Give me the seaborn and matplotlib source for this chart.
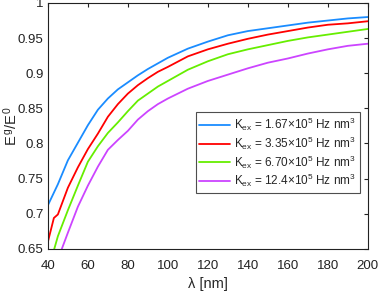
import numpy as np
import pandas as pd
import matplotlib
matplotlib.use("Agg")
import matplotlib.pyplot as plt
import seaborn as sns

# wavelengths (nm) and normalised energies
lam_blue = [40, 45, 50, 55, 60, 65, 70, 75, 80, 85, 90, 95, 100, 110, 120, 130, 140, 150, 160, 170, 180, 190, 200]
e_blue = [0.712, 0.742, 0.776, 0.801, 0.826, 0.848, 0.864, 0.877, 0.887, 0.897, 0.906, 0.914, 0.922,
          0.935, 0.945, 0.954, 0.960, 0.964, 0.968, 0.972, 0.975, 0.978, 0.980]

lam_red = [40, 43, 45, 50, 55, 60, 65, 70, 75, 80, 85, 90, 95, 100, 110, 120, 130, 140, 150, 160, 170, 180, 190, 200]
e_red = [0.660, 0.694, 0.699, 0.737, 0.766, 0.792, 0.814, 0.838, 0.856, 0.871, 0.883, 0.893, 0.902, 0.909,
         0.924, 0.934, 0.942, 0.949, 0.955, 0.960, 0.965, 0.969, 0.971, 0.974]

lam_green = [42, 45, 50, 55, 60, 65, 70, 75, 80, 85, 90, 95, 100, 110, 120, 130, 140, 150, 160, 170, 180, 190, 200]
e_green = [0.638, 0.668, 0.705, 0.740, 0.774, 0.796, 0.815, 0.830, 0.846, 0.861, 0.871, 0.881, 0.889,
           0.905, 0.917, 0.927, 0.934, 0.940, 0.946, 0.951, 0.955, 0.959, 0.963]

lam_purple = [45, 50, 55, 60, 65, 70, 75, 80, 85, 90, 95, 100, 110, 120, 130, 140, 150, 160, 170, 180, 190, 200]
e_purple = [0.635, 0.673, 0.710, 0.740, 0.767, 0.791, 0.805, 0.818, 0.834, 0.846, 0.856, 0.864,
            0.878, 0.889, 0.898, 0.907, 0.915, 0.921, 0.928, 0.934, 0.939, 0.942]

labels = [r"K$_{\mathrm{ex}}$ = 1.67×10$^{5}$ Hz nm$^{3}$",
          r"K$_{\mathrm{ex}}$ = 3.35×10$^{5}$ Hz nm$^{3}$",
          r"K$_{\mathrm{ex}}$ = 6.70×10$^{5}$ Hz nm$^{3}$",
          r"K$_{\mathrm{ex}}$ = 12.4×10$^{5}$ Hz nm$^{3}$"]
colors = ["#1a8cff", "#ff0000", "#66ee00", "#cc44ff"]

x_ticks = [40, 60, 80, 100, 120, 140, 160, 180, 200]
y_ticks = [0.65, 0.7, 0.75, 0.8, 0.85, 0.9, 0.95, 1.0]
y_tick_labels = ["0.65", "0.7", "0.75", "0.8", "0.85", "0.9", "0.95", "1"]

frames = []
for lam, e, lab in zip([lam_blue, lam_red, lam_green, lam_purple],
                       [e_blue, e_red, e_green, e_purple], labels):
    frames.append(pd.DataFrame({"lam": lam, "E": e, "series": lab}))
df = pd.concat(frames, ignore_index=True)

sns.set_style("white")
plt.rcParams["font.family"] = ["Liberation Sans", "DejaVu Sans"]
plt.rcParams["mathtext.fontset"] = "custom"
plt.rcParams["mathtext.rm"] = "Liberation Sans"
plt.rcParams["mathtext.it"] = "Liberation Sans"

fig = plt.figure(figsize=(3.8, 2.97), dpi=100)
ax = fig.add_axes([0.126, 0.162, 0.842, 0.828])

sns.lineplot(data=df, x="lam", y="E", hue="series", palette=colors,
             linewidth=1.3, ax=ax, legend=False, sort=False)

ax.set_xlim(40, 200)
ax.set_ylim(0.65, 1.0)
ax.set_xticks(x_ticks)
ax.set_yticks(y_ticks)
ax.set_yticklabels(y_tick_labels)
ax.tick_params(direction="in", length=3, width=0.8, top=True, right=True,
               labelsize=9.5, colors="#222222")
ax.tick_params(axis="x", pad=8)
ax.tick_params(axis="y", pad=3)
for s in ax.spines.values():
    s.set_color("#222222")
    s.set_linewidth(0.8)

ax.set_xlabel("λ [nm]", fontsize=10.5)
ax.xaxis.set_label_coords(0.5, -0.115)
ax.set_ylabel(r"E$^{\,\mathrm{g}}$/E$^{\,0}$", fontsize=10.5)
ax.yaxis.set_label_coords(-0.088, 0.5)

handles = [plt.Line2D([], [], color=c, lw=1.3) for c in colors]
leg = ax.legend(handles, labels, loc="lower right", bbox_to_anchor=(0.975, 0.228),
                fontsize=8.5, frameon=True, fancybox=False, handlelength=2.6,
                handletextpad=0.4, borderpad=0.3, labelspacing=0.12, borderaxespad=0)
leg.get_frame().set_edgecolor("#222222")
leg.get_frame().set_linewidth(0.8)

fig.savefig("out.png", dpi=100)
